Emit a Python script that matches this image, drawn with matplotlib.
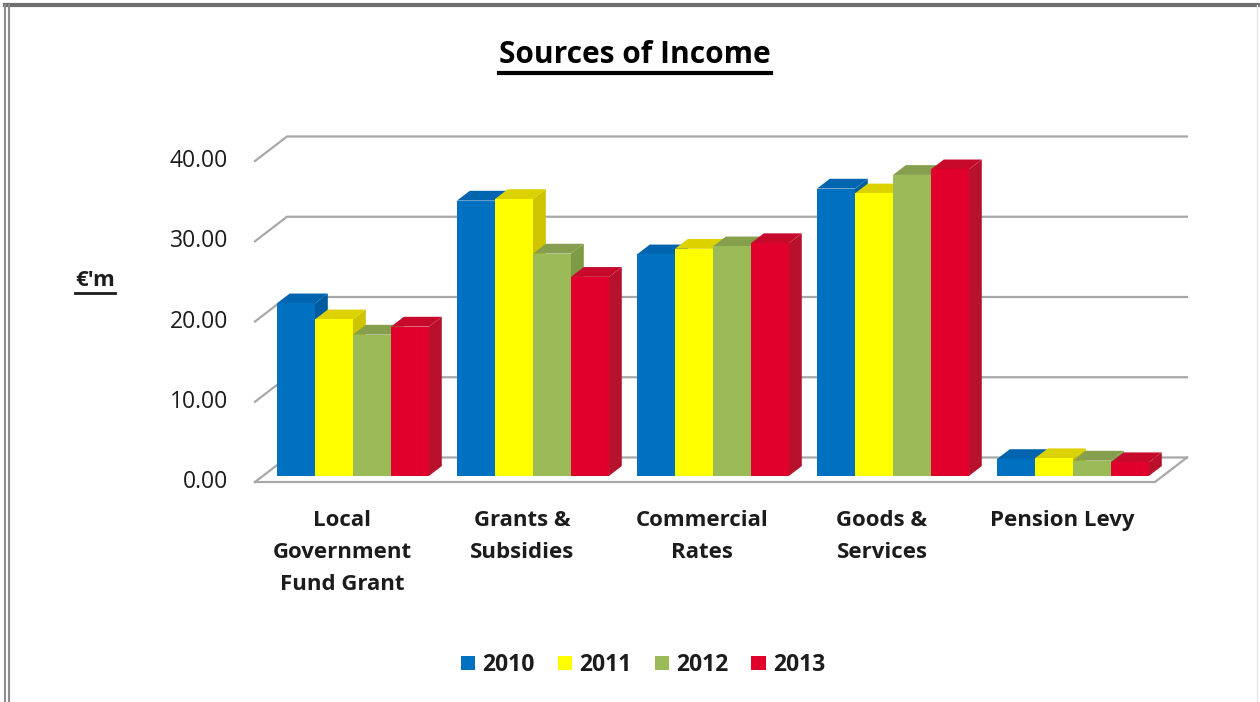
import matplotlib
matplotlib.use("Agg")
import matplotlib.pyplot as plt
from matplotlib.patches import Polygon, Rectangle, Patch
from matplotlib.lines import Line2D

# ---- data (EUR millions) ----
categories = ["Local\nGovernment\nFund Grant", "Grants &\nSubsidies",
              "Commercial\nRates", "Goods &\nServices", "Pension Levy"]
years = ["2010", "2011", "2012", "2013"]
income_2010 = [21.5, 34.3, 27.6, 35.8, 2.1]
income_2011 = [19.5, 34.5, 28.3, 35.2, 2.2]
income_2012 = [17.6, 27.7, 28.6, 37.5, 1.9]
income_2013 = [18.6, 24.8, 29.0, 38.2, 1.7]
y_ticks = [0, 10, 20, 30, 40]

series = [income_2010, income_2011, income_2012, income_2013]
front_colors = ["#0070C0", "#FFFF00", "#9BBB59", "#E0002B"]
side_colors = ["#005C9E", "#CFC400", "#7E9A45", "#B8112E"]
top_colors = ["#0064AE", "#DCD200", "#869F4E", "#C70A2C"]

FONT = "Open Sans"
TXT = "#1c1c1c"

W, H = 1260, 702
fig = plt.figure(figsize=(W / 100, H / 100), dpi=100)
fig.patch.set_facecolor("white")

# front plane of the plot area, in figure pixels
left_px, right_px = 255, 1155
base_px, top_px = 482, 161
ax = fig.add_axes([left_px / W, (H - base_px) / H,
                   (right_px - left_px) / W, (base_px - top_px) / H])
ax.set_xlim(-0.5, 4.5)
ax.set_ylim(0, 40)
ax.axis("off")

# oblique depth offset of the whole plot box, in data units
px_per_x = (right_px - left_px) / 5.0
px_per_y = (base_px - top_px) / 40.0
DX = 32 / px_per_x
DY = 24.5 / px_per_y

grid_c = "#a8a8a8"
for v in y_ticks:
    ax.plot([-0.5, -0.5 + DX, 4.5 + DX], [v, v + DY, v + DY],
            color=grid_c, lw=1.6, clip_on=False, zorder=1)
# floor outline
ax.plot([-0.5, 4.5, 4.5 + DX], [0, 0, DY], color=grid_c, lw=1.6,
        clip_on=False, zorder=1)

# 3-D columns: front, right side and top faces
bar_w = 38 / px_per_x
d0 = 0.25          # depth where the column fronts stand
bd = 0.40          # column depth as a share of the box depth
bx, by = bd * DX, bd * DY
z = 2
for i in range(len(categories)):
    for k, vals in enumerate(series):
        h = vals[i]
        x0 = i - 2 * bar_w + k * bar_w + d0 * DX
        y0 = d0 * DY
        side = Polygon([(x0 + bar_w, y0), (x0 + bar_w + bx, y0 + by),
                        (x0 + bar_w + bx, y0 + h + by), (x0 + bar_w, y0 + h)],
                       closed=True, facecolor=side_colors[k], edgecolor="none",
                       clip_on=False, zorder=z)
        top = Polygon([(x0, y0 + h), (x0 + bar_w, y0 + h),
                       (x0 + bar_w + bx, y0 + h + by), (x0 + bx, y0 + h + by)],
                      closed=True, facecolor=top_colors[k], edgecolor="none",
                      clip_on=False, zorder=z + 1)
        front = Rectangle((x0, y0), bar_w, h, facecolor=front_colors[k],
                          edgecolor="none", clip_on=False, zorder=z + 2)
        ax.add_patch(side)
        ax.add_patch(top)
        ax.add_patch(front)
        z += 3

# value axis labels
for v in y_ticks:
    ax.annotate(f"{v:.2f}", xy=(-0.5, v), xytext=(-27, 0),
                textcoords="offset pixels", ha="right", va="center",
                fontsize=16.5, family=FONT, color=TXT, annotation_clip=False)

# category labels
for i, name in enumerate(categories):
    ax.annotate(name, xy=(i, 0), xytext=(-3, -28), textcoords="offset pixels",
                ha="center", va="top", fontsize=16, family=FONT,
                weight="bold", color=TXT, linespacing=1.68,
                annotation_clip=False)

# title and unit label (underlined)
title = fig.text(635 / W, 1 - 55 / H, "Sources of Income", ha="center",
                 va="center", fontsize=21.5, family=FONT, weight="bold",
                 color="black")
unit = fig.text(95 / W, 1 - 280 / H, "€'m", ha="center", va="center",
                fontsize=16, family=FONT, weight="bold", color=TXT)

renderer = fig.canvas.get_renderer()
for t, gap, lw in [(title, 3, 3.0), (unit, 2, 2.0)]:
    bb = t.get_window_extent(renderer)
    yline = bb.y0 - gap
    fig.add_artist(Line2D([bb.x0 / W, bb.x1 / W], [yline / H, yline / H],
                          color=t.get_color(), lw=lw))

# legend
handles = [Patch(facecolor=c, edgecolor="none") for c in front_colors]
leg = fig.legend(handles, years, ncol=4, loc="center",
                 bbox_to_anchor=(643 / W, 1 - 665 / H), frameon=False,
                 prop={"family": FONT, "weight": "bold", "size": 16.5},
                 handlelength=0.62, handleheight=0.62, handletextpad=0.32,
                 columnspacing=1.0)
for t in leg.get_texts():
    t.set_color(TXT)

# outer frame
fig.add_artist(Line2D([5 / W, 1], [1 - 5 / H, 1 - 5 / H], color="#6e6e6e", lw=3))
fig.add_artist(Line2D([5 / W, 5 / W], [0, 1 - 5 / H], color="#8c8c8c", lw=1.5))
fig.add_artist(Line2D([9 / W, 9 / W], [0, 1 - 5 / H], color="#8c8c8c", lw=1.5))
fig.add_artist(Line2D([1257 / W, 1257 / W], [0, 1 - 5 / H], color="#e6e6e6", lw=1))

fig.savefig("out.png", dpi=100, facecolor="white")
